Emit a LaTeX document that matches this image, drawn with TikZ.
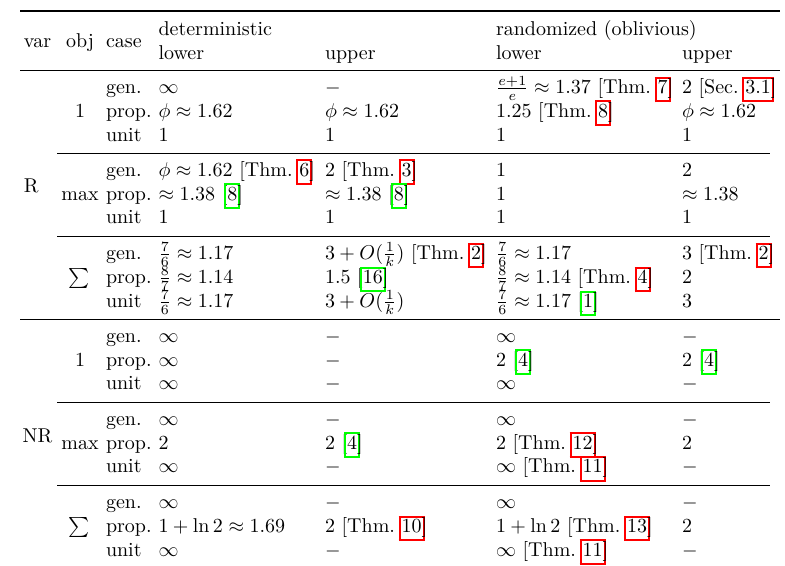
\documentclass[tikz,border=0pt]{standalone}
\usepackage{amsmath}
\definecolor{lred}{rgb}{1,0,0}
\definecolor{lgreen}{rgb}{0,1,0}
\newcommand\lnk[2]{%
  \setbox0=\hbox{#2}%
  \copy0
  \rlap{\color{#1}\kern-\wd0\kern-1.5pt
    \rlap{\vrule width\dimexpr\wd0+3pt\relax height 8.45pt depth -7.45pt}%
    \rlap{\vrule width\dimexpr\wd0+3pt\relax height -3.35pt depth 4.35pt}%
    \rlap{\vrule width 1pt height 8.45pt depth 4.35pt}%
    \kern\wd0\kern2pt\vrule width 1pt height 8.45pt depth 4.35pt}}
\tikzset{
  cell/.style={anchor=base west, inner sep=0pt, outer sep=0pt},
  ctr/.style={anchor=base, inner sep=0pt, outer sep=0pt},
  toprule/.style={line width=1pt},
  midrule/.style={line width=0.5pt},
  cmrule/.style={line width=0.5pt}
}
\newcommand\trow[7]{%
  \node[cell] (#1-case) at (106,#2) {#3};
  \node[cell] (#1-dl) at (158.5,#2) {#4};
  \node[cell] (#1-du) at (325,#2) {#5};
  \node[cell] (#1-rl) at (496,#2) {#6};
  \node[cell] (#1-ru) at (682,#2) {#7};}
\begin{document}
\begin{tikzpicture}[x=0.5pt,y=-0.5pt]
\useasboundingbox (0,0) rectangle (785,566);
% rules
\draw[toprule] (20,11.5) -- (780,11.5);
\draw[midrule] (20,70.7) -- (780,70.7);
\draw[cmrule] (57,153.5) -- (770,153.5);
\draw[cmrule] (57,236.9) -- (770,236.9);
\draw[midrule] (20,319.3) -- (780,319.3);
\draw[cmrule] (57,402.3) -- (770,402.3);
\draw[cmrule] (57,485.7) -- (770,485.7);
% header
\node[cell] (hvar) at (24,48) {var};
\node[ctr] (hobj) at (80,48) {obj};
\node[cell] (hcase) at (106,48) {case};
\node[cell] (hdet) at (158.5,36) {deterministic};
\node[cell] (hdl) at (158.5,60) {lower};
\node[cell] (hdu) at (325,60) {upper};
\node[cell] (hrand) at (496,36) {randomized (oblivious)};
\node[cell] (hrl) at (496,60) {lower};
\node[cell] (hru) at (682,60) {upper};
% var labels
\node[cell] (vR) at (24,193) {R};
\node[cell] (vNR) at (22.5,442.5) {NR};
% obj labels
\node[ctr] (o1) at (80,117.4) {1};
\node[ctr] (o2) at (80,200.2) {max};
\node[ctr] (o3) at (79,283.6) {$\sum$};
\node[ctr] (o4) at (80,366.0) {1};
\node[ctr] (o5) at (80,449.0) {max};
\node[ctr] (o6) at (79,532.4) {$\sum$};
% block 1: R, 1
\trow{a1}{93.6}{gen.}{$\infty$}{$-$}{$\frac{e+1}{e}\approx 1.37$ [Thm.~\lnk{lred}{7}]}{$2$ [Sec.~\lnk{lred}{3.1}]}
\trow{a2}{117.4}{prop.}{$\phi\approx 1.62$}{$\phi\approx 1.62$}{$1.25$ [Thm.~\lnk{lred}{8}]}{$\phi\approx 1.62$}
\trow{a3}{141.2}{unit}{$1$}{$1$}{$1$}{$1$}
% block 2: R, max
\trow{b1}{176.4}{gen.}{$\phi\approx 1.62$ [Thm.~\lnk{lred}{6}]}{$2$ [Thm.~\lnk{lred}{3}]}{$1$}{$2$}
\trow{b2}{200.2}{prop.}{$\approx 1.38$ [\lnk{lgreen}{8}]}{$\approx 1.38$ [\lnk{lgreen}{8}]}{$1$}{$\approx 1.38$}
\trow{b3}{224.0}{unit}{$1$}{$1$}{$1$}{$1$}
% block 3: R, sum
\trow{c1}{259.8}{gen.}{$\frac{7}{6}\approx 1.17$}{$3+O(\frac{1}{k})$ [Thm.~\lnk{lred}{2}]}{$\frac{7}{6}\approx 1.17$}{$3$ [Thm.~\lnk{lred}{2}]}
\trow{c2}{283.6}{prop.}{$\frac{8}{7}\approx 1.14$}{$1.5$ [\lnk{lgreen}{16}]}{$\frac{8}{7}\approx 1.14$ [Thm.~\lnk{lred}{4}]}{$2$}
\trow{c3}{307.4}{unit}{$\frac{7}{6}\approx 1.17$}{$3+O(\frac{1}{k})$}{$\frac{7}{6}\approx 1.17$ [\lnk{lgreen}{1}]}{$3$}
% block 4: NR, 1
\trow{d1}{342.2}{gen.}{$\infty$}{$-$}{$\infty$}{$-$}
\trow{d2}{366.0}{prop.}{$\infty$}{$-$}{$2$ [\lnk{lgreen}{4}]}{$2$ [\lnk{lgreen}{4}]}
\trow{d3}{389.8}{unit}{$\infty$}{$-$}{$\infty$}{$-$}
% block 5: NR, max
\trow{e1}{425.2}{gen.}{$\infty$}{$-$}{$\infty$}{$-$}
\trow{e2}{449.0}{prop.}{$2$}{$2$ [\lnk{lgreen}{4}]}{$2$ [Thm.~\lnk{lred}{12}]}{$2$}
\trow{e3}{472.8}{unit}{$\infty$}{$-$}{$\infty$ [Thm.~\lnk{lred}{11}]}{$-$}
% block 6: NR, sum
\trow{f1}{508.6}{gen.}{$\infty$}{$-$}{$\infty$}{$-$}
\trow{f2}{532.4}{prop.}{$1+\ln 2\approx 1.69$}{$2$ [Thm.~\lnk{lred}{10}]}{$1+\ln 2$ [Thm.~\lnk{lred}{13}]}{$2$}
\trow{f3}{556.2}{unit}{$\infty$}{$-$}{$\infty$ [Thm.~\lnk{lred}{11}]}{$-$}
\end{tikzpicture}
\end{document}
